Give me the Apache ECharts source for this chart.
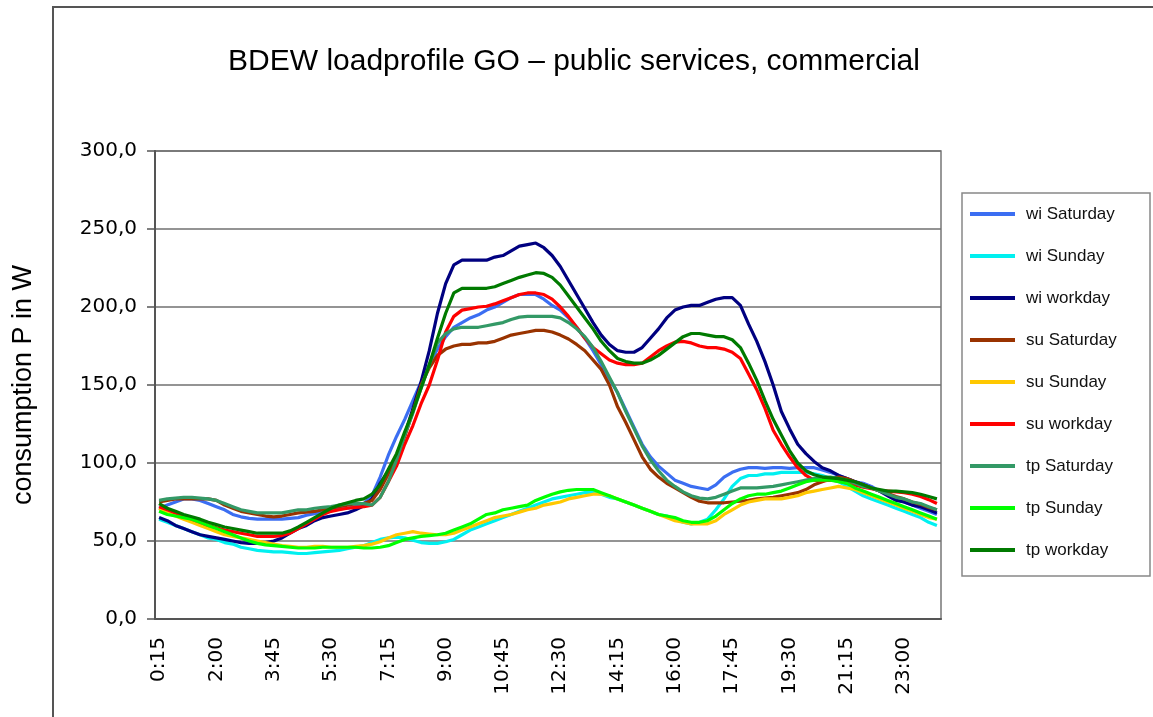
<!DOCTYPE html>
<html>
<head>
<meta charset="utf-8">
<title>BDEW loadprofile GO</title>
<script src="https://cdn.jsdelivr.net/npm/echarts@6/dist/echarts.min.js"></script>
<style>
  html, body { margin: 0; padding: 0; background: #fff; }
  #chart { width: 1153px; height: 717px; }
</style>
</head>
<body>
<div id="chart"></div>
<script>
// quarter-hour categories 0:15 ... 24:00
const times = []
for (let m = 15; m <= 1440; m += 15) {
  times.push(Math.floor(m / 60) + ':' + String(m % 60).padStart(2, '0'))
}

const yTicks = [0, 50, 100, 150, 200, 250, 300]

const wiSaturday = [
  71, 73, 75, 77, 77, 76, 74, 72, 70, 67, 65.5, 64.5, 64, 64, 64, 64,
  64.5, 65, 66.5, 67.5, 68.5, 69.5, 70.5, 71, 72, 74, 79, 91, 105, 117, 128, 140,
  152, 163, 173, 181, 187, 190, 193, 195, 198, 200, 203, 206, 208, 208, 208, 205,
  201, 198, 193, 187, 180, 172, 163, 154, 145, 134, 123, 112, 104, 98, 93.5, 89,
  87, 85, 84, 83, 86, 91, 94, 96, 97, 97, 96.5, 97, 97, 96.5, 97, 97,
  97, 95.5, 94, 92, 90, 88, 87, 85, 82, 80, 77, 75, 73, 71, 69, 67
]
const wiSunday = [
  64, 62, 60, 58, 56, 54, 52, 51, 49, 48, 46, 45, 44, 43.5, 43, 43,
  42.5, 42, 42, 42.5, 43, 43.5, 44, 45, 46, 47, 49, 51, 52, 52.5, 52, 50.5,
  49, 48.5, 48.5, 49.5, 51, 54, 57, 59, 61, 63, 65, 67, 69, 71, 73, 75,
  77, 78, 79, 80, 81, 81, 80, 78, 77, 75, 73, 71, 69, 67, 66, 64,
  62, 61, 62, 64, 70, 77, 85, 90, 92, 92, 93, 93, 94, 94, 94, 94,
  93, 92, 90, 88, 85, 82, 79, 77, 75, 73, 71, 69, 67, 65, 62, 60
]
const wiWorkday = [
  65, 63, 60, 58, 56, 54, 53, 52, 51, 50, 49, 48.5, 48.5, 49, 50, 52,
  55, 58, 60, 63, 65, 66, 67, 68, 70, 72.5, 77, 87, 95, 104, 118, 135,
  152, 172, 196, 215, 227, 230, 230, 230, 230, 232, 233, 236, 239, 240, 241, 238,
  233, 226, 217, 208, 199, 190, 182, 176, 172, 171, 171, 174, 180, 186, 193, 198,
  200, 201, 201, 203, 205, 206, 206, 201, 189, 178, 165, 150, 133, 122, 112, 106,
  101, 97, 95, 92, 90, 88, 86, 84, 82, 79, 76, 75, 73, 72, 70, 68
]
const suSaturday = [
  75, 76, 77, 77, 77, 77, 77, 76, 73, 71, 69, 68, 67, 66, 65.5, 66,
  67, 68, 68.5, 69, 70, 71, 72, 73, 74, 74, 76, 83, 93, 104, 117, 133,
  150, 161, 169, 173, 175, 176, 176, 177, 177, 178, 180, 182, 183, 184, 185, 185,
  184, 182, 179.5, 176, 172, 166, 160, 150, 136, 126, 115, 104, 96, 91, 87, 84,
  81, 78, 75.5, 74.5, 74.5, 74.5, 75, 75.5, 76, 77, 77.5, 78, 79, 80, 81, 83,
  86, 88, 90, 91, 90, 88, 86, 84, 82, 80.5, 78.5, 77, 75, 73.5, 71.5, 70
]
const suSunday = [
  71, 68, 66, 64, 62, 60, 58, 56, 54, 53, 52, 51, 50, 49, 48, 47,
  46.5, 46, 46, 46.5, 46.5, 46, 46, 46, 46.5, 47, 48, 49.5, 52, 54, 55, 56,
  55, 54.5, 54, 54, 55, 57, 59, 61, 63, 65, 66, 67, 68.5, 70, 71, 73,
  74, 75, 77, 78, 79, 80, 80, 79, 77, 75, 73, 71, 69, 67, 65, 63,
  62, 61, 61, 61, 63, 67, 70, 73, 75, 76, 77, 77, 77, 78, 79, 81,
  82, 83, 84, 85, 84, 83, 81, 79, 77, 75, 73, 71, 69, 67, 65, 64
]
const suWorkday = [
  72, 70, 68, 66, 64, 62, 60, 58.5, 57, 56, 55, 54, 53, 53, 53, 53.5,
  55, 58, 61, 64, 67, 69, 70, 71, 71.5, 72, 73, 78, 88, 98, 112, 124,
  138, 150, 166, 184, 194, 198, 199, 200, 200.5, 202, 204, 206, 208, 209, 209, 208,
  205, 200, 194, 187, 180, 174, 170, 166, 164, 163, 163, 164, 168, 172, 175, 177.5,
  178, 177, 175, 174, 174, 173, 171, 167, 157, 147, 135, 121, 112, 104, 97, 92,
  89, 88.5, 89, 88.5, 87, 86, 84.5, 83.5, 82.5, 82, 81.5, 81, 80, 78.5, 76.5, 74
]
const tpSaturday = [
  76, 77, 77.5, 78, 78, 77.5, 77, 76, 74, 72, 70, 69, 68, 68, 68, 68,
  69, 70, 70, 71, 71.5, 72, 73, 74, 74, 74, 73, 78, 88, 102, 118, 132,
  148, 163, 177, 183, 186, 187, 187, 187, 188, 189, 190, 192, 193.5, 194, 194, 194,
  194, 193, 190, 186, 181, 174, 165, 155, 145, 133, 122, 111, 102, 95, 89, 85,
  81.5, 79, 77.5, 77, 78, 80, 82, 84, 84, 84, 84.5, 85, 86, 87, 88, 89,
  90, 91, 91, 90, 89, 87, 85, 84, 82, 80, 78, 77, 75, 74, 72, 70
]
const tpSunday = [
  69, 67, 66, 65, 64, 62, 60, 58, 56, 54, 52, 50, 48.5, 47.5, 47, 46.5,
  46, 45.5, 45.5, 45.5, 46, 46, 46, 46, 46, 45.5, 45.5, 46, 47, 49, 51, 52,
  53, 53.5, 54, 55, 57, 59, 61, 64, 67, 68, 70, 71, 72, 73, 76, 78,
  80, 81.5, 82.5, 83, 83, 83, 81, 79, 77, 75, 73, 71, 69, 67, 66, 65,
  63, 62, 62, 63, 66, 70, 74, 77, 79, 80, 80, 81, 82, 84, 86, 88,
  89, 89, 89, 88, 87, 84, 82, 80, 78, 76, 74, 72, 70, 68, 66, 64
]
const tpWorkday = [
  74, 71, 69, 67, 65.5, 64, 62, 60.5, 59, 58, 57, 56, 55, 55, 55, 55,
  56.5, 59, 62, 65, 68, 71, 73, 74.5, 76, 77, 80, 86, 96, 106, 120, 133,
  148, 163, 180, 196, 209, 212, 212, 212, 212, 213, 215, 217, 219, 220.5, 222, 221.5,
  219, 214, 207, 200, 193, 186, 178, 172, 167, 165, 164, 164, 166, 169, 173, 177,
  181, 183, 183, 182, 181, 181, 179, 174, 164, 153, 140, 128, 118, 108, 100, 95,
  92.5, 91, 90.5, 90, 89, 88, 86, 84, 83, 82, 82, 81.5, 81, 80, 78.5, 77
]

const seriesList = [
  { name: 'wi Saturday', color: '#3b6ef2', data: wiSaturday },
  { name: 'wi Sunday', color: '#00f0f0', data: wiSunday },
  { name: 'wi workday', color: '#000080', data: wiWorkday },
  { name: 'su Saturday', color: '#993300', data: suSaturday },
  { name: 'su Sunday', color: '#ffc800', data: suSunday },
  { name: 'su workday', color: '#ff0000', data: suWorkday },
  { name: 'tp Saturday', color: '#339966', data: tpSaturday },
  { name: 'tp Sunday', color: '#00ff00', data: tpSunday },
  { name: 'tp workday', color: '#007a00', data: tpWorkday },
]

const chart = echarts.init(document.getElementById('chart'))

const option = {
  backgroundColor: '#fff',
  animation: false,
  graphic: [
    // outer frame (left + top)
    {
      type: 'polyline',
      shape: { points: [[53, 717], [53, 7], [1153, 7]] },
      style: { stroke: '#555', lineWidth: 2, fill: null },
    },
    {
      type: 'text',
      x: 574,
      y: 62,
      style: {
        text: 'BDEW loadprofile GO – public services, commercial',
        font: '30px "Liberation Sans", Arial, sans-serif',
        fill: '#000',
        textAlign: 'center',
        textVerticalAlign: 'middle',
      },
    },
    {
      type: 'text',
      x: 24,
      y: 385,
      rotation: Math.PI / 2,
      style: {
        text: 'consumption P in W',
        font: '27px "Liberation Sans", Arial, sans-serif',
        fill: '#000',
        textAlign: 'center',
        textVerticalAlign: 'middle',
      },
    },
    // legend box
    {
      type: 'rect',
      shape: { x: 962, y: 193, width: 188, height: 383 },
      style: { stroke: '#888', lineWidth: 1.5, fill: null },
    },
  ],
  legend: {
    orient: 'vertical',
    left: 970,
    top: 204,
    padding: 0,
    itemGap: 22,
    icon: 'rect',
    itemWidth: 45,
    itemHeight: 4,
    textStyle: {
      fontFamily: '"Liberation Sans", Arial, sans-serif',
      fontSize: 17,
      lineHeight: 20,
      color: '#111',
      padding: [0, 0, 0, 6],
    },
    data: seriesList.map((s) => s.name),
  },
  grid: {
    left: 155,
    right: 212,
    top: 151,
    bottom: 98,
    show: true,
    borderColor: '#777',
    borderWidth: 1.5,
  },
  xAxis: {
    type: 'category',
    data: times,
    boundaryGap: true,
    axisLine: { lineStyle: { color: '#555', width: 2 } },
    axisTick: {
      interval: 0,
      length: 6,
      lineStyle: { color: '#555', width: 1 },
    },
    axisLabel: {
      interval: 6,
      rotate: 90,
      margin: 18,
      color: '#000',
      fontFamily: '"DejaVu Sans", Verdana, sans-serif',
      fontSize: 20,
    },
    splitLine: { show: false },
  },
  yAxis: {
    type: 'value',
    min: yTicks[0],
    max: yTicks[yTicks.length - 1],
    interval: 50,
    axisLine: { show: true, lineStyle: { color: '#555', width: 2 } },
    axisTick: { show: true, length: 8, lineStyle: { color: '#555', width: 1.5 } },
    axisLabel: {
      margin: 18,
      color: '#000',
      fontFamily: '"DejaVu Sans", Verdana, sans-serif',
      fontSize: 20,
      formatter: (v) => v.toFixed(1).replace('.', ','),
    },
    splitLine: { lineStyle: { color: '#707070', width: 1.5 } },
  },
  series: seriesList.map((s) => ({
    name: s.name,
    type: 'line',
    data: s.data,
    symbol: 'none',
    color: s.color,
    lineStyle: { color: s.color, width: 3.2 },
  })),
}

chart.setOption(option)
</script>
</body>
</html>
